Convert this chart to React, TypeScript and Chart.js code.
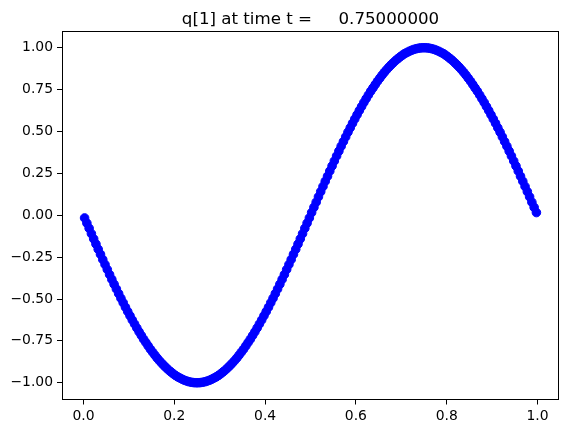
import React, { useEffect, useRef } from "react";
import { Chart, registerables } from "chart.js";

Chart.register(...registerables);

const TITLE = "q[1] at time t =     0.75000000";

const xValues = [
  0.0025, 0.0075, 0.0125, 0.0175, 0.0225, 0.0275, 0.0325, 0.0375, 0.0425, 0.0475,
  0.0525, 0.0575, 0.0625, 0.0675, 0.0725, 0.0775, 0.0825, 0.0875, 0.0925, 0.0975,
  0.1025, 0.1075, 0.1125, 0.1175, 0.1225, 0.1275, 0.1325, 0.1375, 0.1425, 0.1475,
  0.1525, 0.1575, 0.1625, 0.1675, 0.1725, 0.1775, 0.1825, 0.1875, 0.1925, 0.1975,
  0.2025, 0.2075, 0.2125, 0.2175, 0.2225, 0.2275, 0.2325, 0.2375, 0.2425, 0.2475,
  0.2525, 0.2575, 0.2625, 0.2675, 0.2725, 0.2775, 0.2825, 0.2875, 0.2925, 0.2975,
  0.3025, 0.3075, 0.3125, 0.3175, 0.3225, 0.3275, 0.3325, 0.3375, 0.3425, 0.3475,
  0.3525, 0.3575, 0.3625, 0.3675, 0.3725, 0.3775, 0.3825, 0.3875, 0.3925, 0.3975,
  0.4025, 0.4075, 0.4125, 0.4175, 0.4225, 0.4275, 0.4325, 0.4375, 0.4425, 0.4475,
  0.4525, 0.4575, 0.4625, 0.4675, 0.4725, 0.4775, 0.4825, 0.4875, 0.4925, 0.4975,
  0.5025, 0.5075, 0.5125, 0.5175, 0.5225, 0.5275, 0.5325, 0.5375, 0.5425, 0.5475,
  0.5525, 0.5575, 0.5625, 0.5675, 0.5725, 0.5775, 0.5825, 0.5875, 0.5925, 0.5975,
  0.6025, 0.6075, 0.6125, 0.6175, 0.6225, 0.6275, 0.6325, 0.6375, 0.6425, 0.6475,
  0.6525, 0.6575, 0.6625, 0.6675, 0.6725, 0.6775, 0.6825, 0.6875, 0.6925, 0.6975,
  0.7025, 0.7075, 0.7125, 0.7175, 0.7225, 0.7275, 0.7325, 0.7375, 0.7425, 0.7475,
  0.7525, 0.7575, 0.7625, 0.7675, 0.7725, 0.7775, 0.7825, 0.7875, 0.7925, 0.7975,
  0.8025, 0.8075, 0.8125, 0.8175, 0.8225, 0.8275, 0.8325, 0.8375, 0.8425, 0.8475,
  0.8525, 0.8575, 0.8625, 0.8675, 0.8725, 0.8775, 0.8825, 0.8875, 0.8925, 0.8975,
  0.9025, 0.9075, 0.9125, 0.9175, 0.9225, 0.9275, 0.9325, 0.9375, 0.9425, 0.9475,
  0.9525, 0.9575, 0.9625, 0.9675, 0.9725, 0.9775, 0.9825, 0.9875, 0.9925, 0.9975,
];

const qValues = [
  -0.016, -0.047, -0.078, -0.110, -0.141, -0.172, -0.203, -0.233, -0.264, -0.294,
  -0.324, -0.354, -0.383, -0.412, -0.440, -0.468, -0.496, -0.522, -0.549, -0.575,
  -0.600, -0.625, -0.649, -0.673, -0.696, -0.718, -0.740, -0.760, -0.780, -0.800,
  -0.818, -0.836, -0.853, -0.869, -0.884, -0.898, -0.911, -0.924, -0.935, -0.946,
  -0.956, -0.965, -0.972, -0.979, -0.985, -0.990, -0.994, -0.997, -0.999, -1.000,
  -1.000, -0.999, -0.997, -0.994, -0.990, -0.985, -0.979, -0.972, -0.965, -0.956,
  -0.946, -0.935, -0.924, -0.911, -0.898, -0.884, -0.869, -0.853, -0.836, -0.818,
  -0.800, -0.780, -0.760, -0.740, -0.718, -0.696, -0.673, -0.649, -0.625, -0.600,
  -0.575, -0.549, -0.522, -0.496, -0.468, -0.440, -0.412, -0.383, -0.354, -0.324,
  -0.294, -0.264, -0.233, -0.203, -0.172, -0.141, -0.110, -0.078, -0.047, -0.016,
  0.016, 0.047, 0.078, 0.110, 0.141, 0.172, 0.203, 0.233, 0.264, 0.294,
  0.324, 0.354, 0.383, 0.412, 0.440, 0.468, 0.496, 0.522, 0.549, 0.575,
  0.600, 0.625, 0.649, 0.673, 0.696, 0.718, 0.740, 0.760, 0.780, 0.800,
  0.818, 0.836, 0.853, 0.869, 0.884, 0.898, 0.911, 0.924, 0.935, 0.946,
  0.956, 0.965, 0.972, 0.979, 0.985, 0.990, 0.994, 0.997, 0.999, 1.000,
  1.000, 0.999, 0.997, 0.994, 0.990, 0.985, 0.979, 0.972, 0.965, 0.956,
  0.946, 0.935, 0.924, 0.911, 0.898, 0.884, 0.869, 0.853, 0.836, 0.818,
  0.800, 0.780, 0.760, 0.740, 0.718, 0.696, 0.673, 0.649, 0.625, 0.600,
  0.575, 0.549, 0.522, 0.496, 0.468, 0.440, 0.412, 0.383, 0.354, 0.324,
  0.294, 0.264, 0.233, 0.203, 0.172, 0.141, 0.110, 0.078, 0.047, 0.016,
];

const xTicks = [0, 0.2, 0.4, 0.6, 0.8, 1.0];
const yTicks = [-1, -0.75, -0.5, -0.25, 0, 0.25, 0.5, 0.75, 1];

const FONT = '"DejaVu Sans", "Liberation Sans", sans-serif';

export default function App() {
  const ref = useRef<HTMLCanvasElement>(null);

  useEffect(() => {
    document.body.style.margin = "0";
    const canvas = ref.current;
    if (!canvas) return;

    const framePlugin = {
      id: "frameAndTitle",
      afterDraw(chart: any) {
        const { left, top, right, bottom } = chart.chartArea;
        const ctx = chart.ctx;
        ctx.save();
        ctx.strokeStyle = "#000";
        ctx.lineWidth = 1;
        const l = Math.round(left) + 0.5;
        const t = Math.round(top) + 0.5;
        const r = Math.round(right) - 0.5;
        const b = Math.round(bottom) - 0.5;
        ctx.strokeRect(l, t, r - l, b - t);
        ctx.fillStyle = "#000";
        ctx.font = `16.67px ${FONT}`;
        ctx.textAlign = "center";
        ctx.textBaseline = "alphabetic";
        ctx.fillText(TITLE, (left + right) / 2, top - 7.4);
        ctx.restore();
      },
    };

    const chart = new Chart(canvas, {
      type: "scatter",
      data: {
        datasets: [
          {
            data: xValues.map((x, i) => ({ x, y: qValues[i] })),
            showLine: false,
            pointRadius: 4.3,
            pointHoverRadius: 4.3,
            pointBackgroundColor: "#0000ff",
            pointBorderColor: "#0000ff",
            pointBorderWidth: 1,
          },
        ],
      },
      options: {
        responsive: false,
        animation: false,
        events: [],
        layout: { padding: { top: 31, right: 9, left: 0, bottom: 0 } },
        plugins: {
          legend: { display: false },
          tooltip: { enabled: false },
          title: { display: false },
        },
        scales: {
          x: {
            type: "linear",
            min: -0.04725,
            max: 1.04725,
            afterBuildTicks: (axis: any) => {
              axis.ticks = xTicks.map((v) => ({ value: v }));
            },
            afterFit: (axis: any) => {
              axis.height = 33.5;
            },
            grid: {
              display: true,
              drawOnChartArea: false,
              drawTicks: true,
              tickLength: 5,
              color: "#000",
              tickColor: "#000",
            },
            border: { display: false },
            ticks: {
              color: "#000",
              padding: 4,
              maxRotation: 0,
              autoSkip: false,
              font: { family: FONT, size: 13.9 },
              callback: (v: any) => Number(v).toFixed(1),
            },
          },
          y: {
            type: "linear",
            min: -1.1,
            max: 1.1,
            afterBuildTicks: (axis: any) => {
              axis.ticks = yTicks.map((v) => ({ value: v }));
            },
            afterFit: (axis: any) => {
              axis.width = 62;
            },
            grid: {
              display: true,
              drawOnChartArea: false,
              drawTicks: true,
              tickLength: 5,
              color: "#000",
              tickColor: "#000",
            },
            border: { display: false },
            ticks: {
              color: "#000",
              padding: 4,
              autoSkip: false,
              font: { family: FONT, size: 13.9 },
              callback: (v: any) => Number(v).toFixed(2).replace("-", "\u2212"),
            },
          },
        },
      },
      plugins: [framePlugin],
    });

    return () => chart.destroy();
  }, []);

  return (
    <div style={{ width: 568, height: 433, position: "relative" }}>
      <canvas ref={ref} width={568} height={433} />
    </div>
  );
}
